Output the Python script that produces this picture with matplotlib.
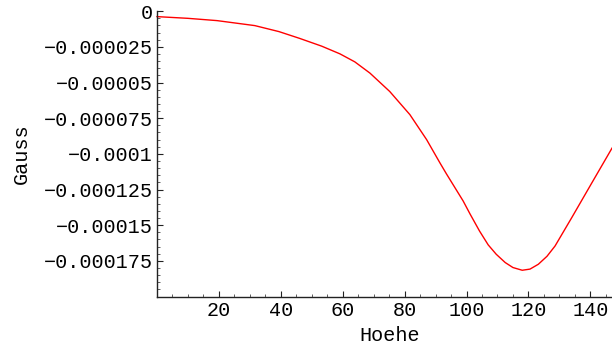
import matplotlib.pyplot as plt
from matplotlib.ticker import MultipleLocator, FixedLocator

# values (height vs. field in Gauss)
hoehe = [0, 10, 19.4, 31.6, 39.4, 46, 53.2, 59.1, 63.9, 68.8, 75.2, 81.7,
         87.1, 91.4, 93.5, 98.9, 101.1, 104.2, 107.0, 109.6, 112.5, 115.0,
         118, 120.5, 123.2, 126.0, 128.6, 134.0, 140.5, 147]
gauss = [-3.8e-6, -5.0e-6, -6.6e-6, -10.1e-6, -14.3e-6, -19.0e-6, -24.5e-6,
         -29.9e-6, -35.5e-6, -43.4e-6, -56.3e-6, -72.5e-6, -90.0e-6,
         -106.3e-6, -114e-6, -133e-6, -142e-6, -154.1e-6, -163.8e-6,
         -170.4e-6, -176.2e-6, -179.7e-6, -181.6e-6, -180.8e-6, -177.4e-6,
         -171.8e-6, -164.6e-6, -144.7e-6, -120.3e-6, -96.0e-6]

y_ticks = [0, -0.000025, -0.00005, -0.000075, -0.0001, -0.000125,
           -0.00015, -0.000175]
y_labels = ['0', '\u22120.000025', '\u22120.00005', '\u22120.000075',
            '\u22120.0001', '\u22120.000125', '\u22120.00015', '\u22120.000175']
x_ticks = [20, 40, 60, 80, 100, 120, 140]

plt.rcParams['font.family'] = ['Liberation Mono', 'DejaVu Sans Mono']

fig = plt.figure(figsize=(6.12, 3.49), dpi=100)
ax = fig.add_axes([157 / 612, 1 - 296.5 / 349, 1 - 157 / 612, (296.5 - 11.2) / 349])

ax.plot(hoehe, gauss, color='#ff0000', lw=1.0, clip_on=False)

ax.set_xlim(0, 147)
ax.set_ylim(-0.0002, 0)

for s in ['top', 'right']:
    ax.spines[s].set_visible(False)
for s in ['left', 'bottom']:
    ax.spines[s].set_color('#222222')
    ax.spines[s].set_linewidth(1.0)

ax.xaxis.set_major_locator(FixedLocator(x_ticks))
ax.xaxis.set_minor_locator(MultipleLocator(5))
ax.yaxis.set_major_locator(FixedLocator(y_ticks))
ax.set_yticklabels(y_labels)
ax.yaxis.set_minor_locator(MultipleLocator(0.000005))

ax.tick_params(which='major', direction='in', length=4, width=0.8,
               color='#222222', labelsize=14.5, pad=3)
ax.tick_params(which='minor', direction='in', length=2.2, width=0.6,
               color='#444444')

ax.set_xlabel('Hoehe', fontsize=14.5)
ax.xaxis.set_label_coords(0.511, -0.105)
ax.set_ylabel('Gauss', fontsize=14.5, labelpad=9)

fig.savefig('out.png', dpi=100)
